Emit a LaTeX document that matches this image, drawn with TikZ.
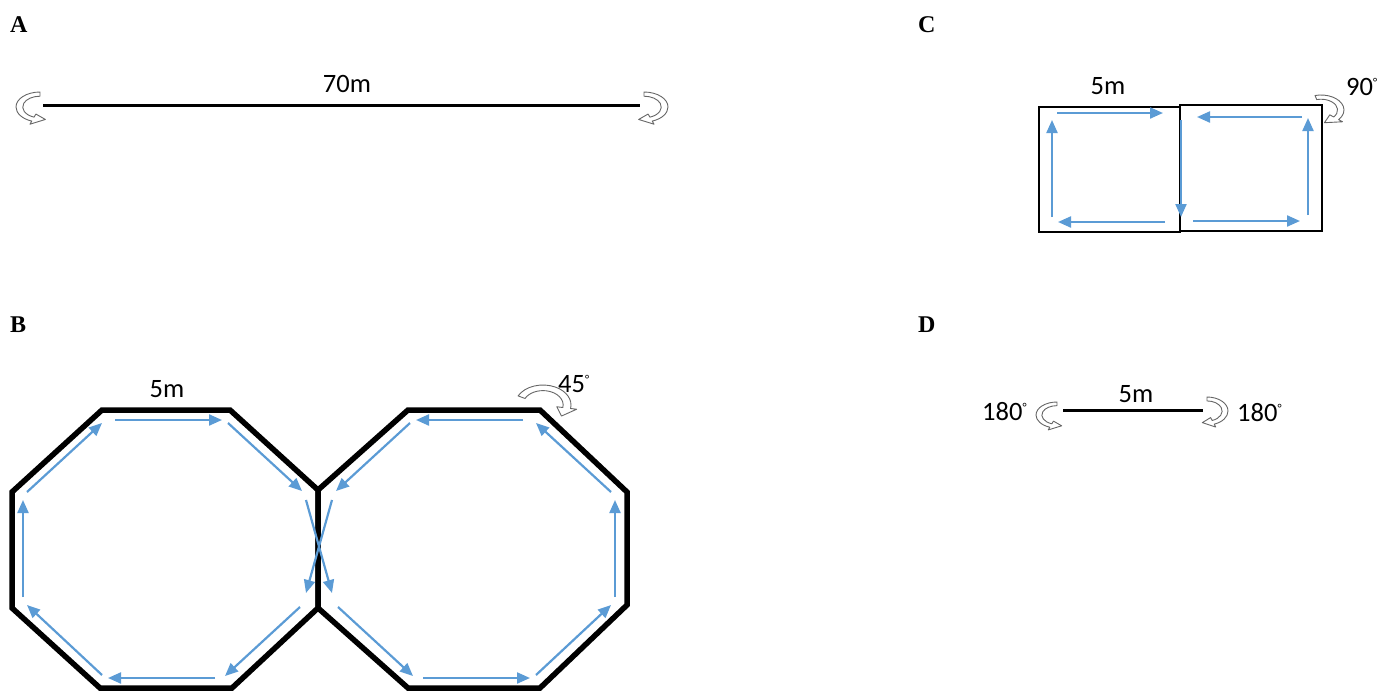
\documentclass[tikz,border=0pt]{standalone}
\usepackage{fontspec}
\setmainfont{Carlito}
\newfontfamily\panelfont{Liberation Serif}
\usetikzlibrary{arrows.meta}
\definecolor{runblue}{RGB}{91,155,213}
\tikzset{panel/.style={font=\panelfont\bfseries\fontsize{24}{28}\selectfont,anchor=base west,inner sep=0pt},
  dist/.style={font=\fontsize{26.5}{31}\selectfont,anchor=base,inner sep=0pt},
  angle/.style={dist,anchor=base west},
  run/.style={runblue,line width=2.2pt,-{Triangle[length=13pt,width=11pt]}},
  track/.style={line width=5.5pt,line join=miter},
  course/.style={line width=3pt},
  turnline/.style={draw=black!60,fill=white,line width=0.9pt,line join=round}}
\newcommand{\degr}{\raisebox{8.5pt}{\fontsize{12}{12}\selectfont °}}
% hollow turning arrow: centre, x radius, y radius, start, end, tip angle
\newcommand{\turnarrow}[6]{%
  \begin{scope}[shift={(#1)},xscale=#2,yscale=#3]
    \draw[turnline] (#4:1) arc[start angle=#4,end angle=#5,radius=1]
      -- (#5:1.22) -- (#6:0.86) -- (#5:0.5) -- (#5:0.72)
      arc[start angle=#5,end angle=#4,radius=0.72] -- cycle;
  \end{scope}}
% laps inside the left octagon (mirrored for the right one)
\newcommand{\octolaps}{%
  \foreach \xa/\ya/\xb/\yb in {115/420/222/420, 228/423/302/491, 306/500/332/593,
      300/607/225/676, 215/678/108/678, 102/675/27/605, 23/597/23/500, 27/492/102/423}
    \draw[run] (\xa,\ya) -- (\xb,\yb);}

\begin{document}
\begin{tikzpicture}[x=1pt,y=-1pt]
\useasboundingbox (0,0) rectangle (1393,691);
% panel labels
\node[panel] (labA) at (10,32) {A};
\node[panel] (labB) at (10,332) {B};
\node[panel] (labC) at (918,32) {C};
\node[panel] (labD) at (918,332) {D};

% A: straight 70m run
\draw[course] (43,105) -- (640,105);
\node[dist] (lenA) at (347,92) {70m};
\turnarrow{40,107}{24}{15}{270}{110}{75}
\turnarrow{644,107}{24}{15}{270}{430}{465}

% B: figure of eight around two octagons
\draw[track] (102,410) -- (230,410) -- (318,490) -- (318,608) -- (232,688) -- (100,688) -- (12,608) -- (12,492) -- cycle;
\draw[track] (408,410) -- (540,410) -- (627,492) -- (627,605) -- (540,688) -- (408,688) -- (318,608) -- (318,490) -- cycle;
\octolaps
\begin{scope}[shift={(638,0)},xscale=-1]
  \octolaps
\end{scope}
\node[dist] (lenB) at (167,397) {5m};
\turnarrow{543,405}{28}{20}{207}{370}{400}
\node[angle] (angB) at (558,392) {45\degr};

% C: two squares
\draw[line width=1.5pt] (1039,107) rectangle (1180,232);
\draw[line width=1.5pt] (1180,105) rectangle (1322,231);
\foreach \xa/\ya/\xb/\yb in {1057/113/1163/113, 1181/120/1181/217, 1165/222/1058/222, 1052/217/1052/120,
    1193/221/1300/221, 1308/215/1308/118, 1302/117/1197/117}
  \draw[run] (\xa,\ya) -- (\xb,\yb);
\node[dist] (lenC) at (1108,94) {5m};
\turnarrow{1321,110}{23}{15}{255}{400}{440}
\node[angle] (angC) at (1346,95) {90\degr};

% D: 5m shuttle
\draw[course] (1063,410) -- (1203,410);
\node[dist] (lenD) at (1136,402) {5m};
\turnarrow{1057,415}{21}{13}{270}{110}{75}
\turnarrow{1207,411}{21}{14}{270}{430}{465}
\node[angle] (angDl) at (982,420) {180\degr};
\node[angle] (angDr) at (1237,421) {180\degr};
\end{tikzpicture}
\end{document}
